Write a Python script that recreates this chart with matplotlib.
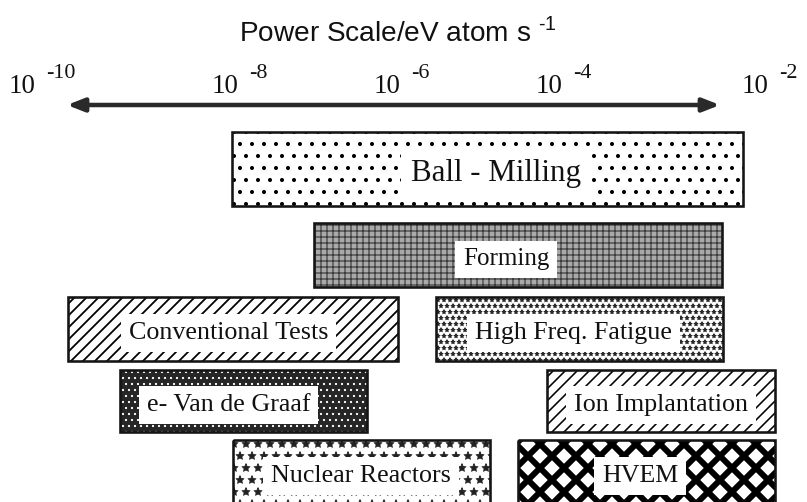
import numpy as np
import matplotlib
matplotlib.use("Agg")
import matplotlib.pyplot as plt

# ---------------- data ----------------
techniques = ['Ball - Milling', 'Forming', 'Conventional Tests', 'High Freq. Fatigue',
              'e- Van de Graaf', 'Ion Implantation', 'Nuclear Reactors', 'HVEM']
lanes = [0, 1, 2, 2, 3, 3, 4, 4]
low_exp = [-8.16, -7.15, -10.19, -5.64, -9.54, -4.27, -8.15, -4.63]
high_exp = [-1.85, -2.11, -6.11, -2.10, -6.49, -1.46, -4.98, -1.46]
tick_exps = [-10, -8, -6, -4, -2]
axis_title = 'Power Scale/eV atom s'
axis_title_sup = '‐1'

# ---------------- layout / style ----------------
DPI = 72
W, H = 807, 502
lane_center = [169, 255, 329, 401, 472]
lane_height = [74, 64, 64, 62, 64]
px0, px_per_dec = 83.0, 81.0          # pixel of 1e-10, pixels per decade
lo = -10 - px0 / px_per_dec
hi = -10 + (W - px0) / px_per_dec
arrow_y = 105
arrow_pad_left, arrow_pad_right = 16, 11   # pixels beyond / inside end ticks

styles = {
    'Ball - Milling':     dict(fc='white',   hatch='.',   hc='black',   hlw=1.6, fs=31, dx=8),
    'Forming':            dict(fc='#a9a9a9', hatch='++',  hc='#3c3c3c', hlw=1.2, fs=25, dx=-12),
    'Conventional Tests': dict(fc='white',   hatch='//',  hc='black',   hlw=1.8, fs=26, dx=-4),
    'High Freq. Fatigue': dict(fc='white',   hatch='**',  hc='#222222', hlw=0.8, fs=26, dx=-6),
    'e- Van de Graaf':    dict(fc='#262626', hatch='..',  hc='white',   hlw=1.0, fs=26, dx=-15),
    'Ion Implantation':   dict(fc='white',   hatch='//',  hc='black',   hlw=1.6, fs=26, dx=0),
    'Nuclear Reactors':   dict(fc='white',   hatch='*',   hc='#222222', hlw=0.8, fs=26, dx=0),
    'HVEM':               dict(fc='white',   hatch='x',   hc='black',   hlw=6.0, fs=26, dx=-6),
}
label_dy = -4

serif = ['Liberation Serif', 'DejaVu Serif']
sans = ['Liberation Sans', 'DejaVu Sans']
ink = '#111111'

fig = plt.figure(figsize=(W / DPI, H / DPI), dpi=DPI)
fig.patch.set_facecolor('white')
ax = fig.add_axes([0, 0, 1, 1])
ax.set_xscale('log')
ax.set_xlim(10 ** lo, 10 ** hi)
ax.set_ylim(H, 0)
ax.axis('off')

for name, lane, a, b in zip(techniques, lanes, low_exp, high_exp):
    st = styles[name]
    left, right = 10.0 ** a, 10.0 ** b
    yc, hh = lane_center[lane], lane_height[lane]
    with plt.rc_context({'hatch.linewidth': st['hlw']}):
        bars = ax.barh(yc, right - left, left=left, height=hh,
                       color=st['fc'], edgecolor=st['hc'], hatch=st['hatch'],
                       linewidth=0, zorder=1)
    for p in bars:
        if hasattr(p, 'set_hatch_linewidth'):
            p.set_hatch_linewidth(st['hlw'])
    ax.barh(yc, right - left, left=left, height=hh, fill=False,
            edgecolor='#151515', linewidth=2.6, zorder=3)
    xc = 10.0 ** ((a + b) / 2)
    ax.annotate(name, xy=(xc, yc), xytext=(st['dx'], label_dy), textcoords='offset points',
                ha='center', va='center', fontsize=st['fs'], family=serif,
                color=ink, zorder=4,
                bbox=dict(boxstyle='square,pad=0.3', fc='white', ec='none'))

# axis arrow spanning the tick range
x_left = 10.0 ** (tick_exps[0] - arrow_pad_left / px_per_dec)
x_right = 10.0 ** (tick_exps[-1] - arrow_pad_right / px_per_dec)
ax.annotate('', xy=(x_right, arrow_y), xytext=(x_left, arrow_y),
            arrowprops=dict(arrowstyle='<|-|>,head_length=1.4,head_width=0.55',
                            lw=4.5, color='#2a2a2a', shrinkA=0, shrinkB=0,
                            mutation_scale=10))

# tick labels: "10" plus a raised exponent
tick_shift = {tick_exps[0]: -44, tick_exps[-1]: 41}
for e in tick_exps:
    sh = tick_shift.get(e, -3)
    xe = 10.0 ** e
    ax.annotate('10', xy=(xe, 93), xytext=(sh - 4, 0), textcoords='offset points',
                ha='right', va='baseline', fontsize=27, family=serif, color=ink)
    ax.annotate('‐%d' % abs(e), xy=(xe, 93), xytext=(sh + 7, 15), textcoords='offset points',
                ha='left', va='baseline', fontsize=22, family=serif, color=ink)

# axis title
ax.text(0.493, 1 - 32 / H, axis_title + r' $^{\mathregular{' + axis_title_sup + '}}$',
        transform=ax.transAxes, ha='center', va='center', fontsize=28,
        family=sans, color=ink)

fig.savefig('out.png', dpi=DPI, facecolor='white')
